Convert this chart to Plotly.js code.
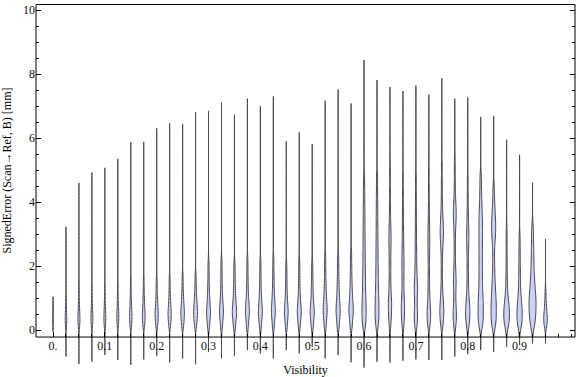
<!DOCTYPE html>
<html><head><meta charset="utf-8">
<script src="https://cdn.plot.ly/plotly-3.0.1.min.js"></script>
<style>html,body{margin:0;padding:0;background:#fff}#chart{width:576px;height:377px}</style>
</head><body><div id="chart"></div>
<script>
// ---------------- DATA ----------------
const visibility = [0, 0.025, 0.05, 0.075, 0.1, 0.125, 0.15, 0.175, 0.2, 0.225,
  0.25, 0.275, 0.3, 0.325, 0.35, 0.375, 0.4, 0.425, 0.45, 0.475,
  0.5, 0.525, 0.55, 0.575, 0.6, 0.625, 0.65, 0.675, 0.7, 0.725,
  0.75, 0.775, 0.8, 0.825, 0.85, 0.875, 0.9, 0.925, 0.95];

const errMin = [-0.05, -0.83, -1.06, -0.99, -0.78, -0.94, -1.09, -0.92, -0.81, -1.02,
  -0.89, -1.07, -0.68, -0.89, -0.81, -0.63, -0.73, -0.89, -0.63, -0.73,
  -0.52, -0.89, -0.78, -1.01, -1.17, -0.99, -1.02, -0.96, -0.92, -0.94,
  -0.94, -0.83, -0.75, -0.63, -0.68, -0.52, -0.47, -0.42, -0.42];

const errMax = [1.04, 3.23, 4.60, 4.92, 5.07, 5.35, 5.87, 5.88, 6.30, 6.46,
  6.44, 6.81, 6.85, 7.11, 6.73, 7.23, 7.00, 7.30, 5.90, 6.18,
  5.81, 7.17, 7.52, 7.08, 8.44, 7.81, 7.59, 7.47, 7.64, 7.36,
  7.87, 7.23, 7.27, 6.66, 6.69, 5.95, 5.48, 4.60, 2.84];

const errSamples = [
  [0.2, 0.5, 0.8],
  [0.1, 0.18, 0.25, 0.31, 0.37, 0.43, 0.5, 0.58, 0.68, 0.8, 0.95, 1.15],
  [0.08, 0.16, 0.23, 0.29, 0.35, 0.41, 0.47, 0.54, 0.62, 0.72, 0.84, 1.0, 1.2, 1.45],
  [0.1, 0.18, 0.25, 0.31, 0.37, 0.43, 0.49, 0.56, 0.64, 0.74, 0.86, 1.02, 1.22, 1.46],
  [0.08, 0.16, 0.24, 0.3, 0.36, 0.42, 0.48, 0.55, 0.63, 0.73, 0.85, 1.0, 1.2, 1.45],
  [0.1, 0.19, 0.27, 0.33, 0.39, 0.45, 0.51, 0.58, 0.66, 0.76, 0.88, 1.04, 1.24, 1.5],
  [0.08, 0.17, 0.25, 0.32, 0.38, 0.44, 0.5, 0.57, 0.65, 0.74, 0.85, 0.98, 1.14, 1.34, 1.58],
  [0.1, 0.19, 0.27, 0.34, 0.4, 0.46, 0.52, 0.59, 0.67, 0.76, 0.87, 1.0, 1.16, 1.36, 1.6],
  [0.08, 0.18, 0.27, 0.35, 0.42, 0.48, 0.54, 0.61, 0.69, 0.78, 0.89, 1.02, 1.18, 1.38, 1.62],
  [0.1, 0.2, 0.29, 0.37, 0.44, 0.5, 0.56, 0.63, 0.71, 0.8, 0.91, 1.04, 1.2, 1.4, 1.65],
  [0.08, 0.19, 0.29, 0.38, 0.45, 0.52, 0.58, 0.65, 0.73, 0.82, 0.93, 1.06, 1.22, 1.42, 1.68],
  [0.1, 0.21, 0.31, 0.4, 0.47, 0.54, 0.6, 0.67, 0.75, 0.84, 0.95, 1.08, 1.24, 1.44, 1.7],
  [0.05, 0.14, 0.28, 0.37, 0.44, 0.5, 0.56, 0.62, 0.69, 0.77, 0.86, 0.97, 1.1, 1.25, 1.42, 1.62, 1.85, 2.1],
  [0.06, 0.15, 0.3, 0.39, 0.46, 0.52, 0.58, 0.64, 0.71, 0.79, 0.88, 0.99, 1.12, 1.27, 1.45, 1.66, 1.9, 2.16],
  [0.05, 0.14, 0.29, 0.38, 0.45, 0.51, 0.57, 0.63, 0.7, 0.78, 0.87, 0.98, 1.11, 1.26, 1.43, 1.63, 1.86, 2.1],
  [0.06, 0.15, 0.31, 0.4, 0.47, 0.53, 0.59, 0.66, 0.73, 0.81, 0.9, 1.01, 1.14, 1.3, 1.48, 1.69, 1.93, 2.2],
  [0.05, 0.15, 0.3, 0.39, 0.46, 0.52, 0.58, 0.65, 0.72, 0.8, 0.89, 1.0, 1.13, 1.28, 1.46, 1.67, 1.9, 2.15],
  [0.06, 0.16, 0.32, 0.41, 0.48, 0.55, 0.61, 0.68, 0.75, 0.83, 0.93, 1.04, 1.17, 1.33, 1.51, 1.72, 1.96, 2.24],
  [0.05, 0.14, 0.29, 0.38, 0.45, 0.51, 0.57, 0.63, 0.7, 0.78, 0.87, 0.98, 1.11, 1.26, 1.43, 1.62, 1.84, 2.08],
  [0.06, 0.15, 0.3, 0.39, 0.46, 0.52, 0.58, 0.64, 0.71, 0.79, 0.88, 0.99, 1.12, 1.27, 1.45, 1.66, 1.9, 2.16],
  [0.05, 0.14, 0.28, 0.37, 0.44, 0.5, 0.56, 0.62, 0.69, 0.77, 0.86, 0.97, 1.1, 1.25, 1.42, 1.62, 1.85, 2.1],
  [0.06, 0.16, 0.32, 0.42, 0.5, 0.57, 0.64, 0.71, 0.79, 0.88, 0.98, 1.1, 1.24, 1.4, 1.58, 1.8, 2.05, 2.34],
  [0.06, 0.16, 0.31, 0.41, 0.49, 0.56, 0.63, 0.7, 0.78, 0.87, 0.97, 1.09, 1.23, 1.39, 1.57, 1.78, 2.02, 2.3],
  [0.07, 0.17, 0.33, 0.43, 0.51, 0.58, 0.65, 0.73, 0.81, 0.9, 1.01, 1.13, 1.27, 1.43, 1.62, 1.84, 2.1, 2.4],
  [0.1, 0.22, 0.34, 0.45, 0.56, 0.67, 0.78, 0.9, 1.03, 1.17, 1.32, 1.48, 1.65, 1.83, 2.02, 2.22, 2.43, 2.65, 2.88, 3.12, 3.38, 3.66, 3.96, 4.3, 4.7],
  [0.12, 0.24, 0.36, 0.47, 0.58, 0.69, 0.8, 0.92, 1.05, 1.19, 1.34, 1.5, 1.67, 1.85, 2.04, 2.24, 2.45, 2.67, 2.9, 3.15, 3.42, 3.7, 4.0, 4.35, 4.75],
  [0.12, 0.25, 0.38, 0.5, 0.6, 0.7, 0.78, 0.86, 0.95, 1.06, 1.2, 1.36, 1.54, 1.74, 1.94, 2.14, 2.34, 2.52, 2.68, 2.82, 2.95, 3.1, 3.28, 3.5, 3.78, 4.1, 4.5, 5.0],
  [0.1, 0.22, 0.34, 0.45, 0.55, 0.64, 0.72, 0.8, 0.9, 1.02, 1.16, 1.32, 1.5, 1.68, 1.84, 1.98, 2.12, 2.26, 2.42, 2.6, 2.8, 3.02, 3.28, 3.58, 3.92, 4.3, 4.75],
  [0.1, 0.2, 0.3, 0.38, 0.46, 0.56, 0.68, 0.82, 0.96, 1.08, 1.18, 1.27, 1.36, 1.45, 1.56, 1.7, 1.86, 2.04, 2.24, 2.46, 2.7, 2.96, 3.24, 3.55, 3.9, 4.3, 4.75],
  [0.1, 0.2, 0.29, 0.37, 0.44, 0.51, 0.58, 0.66, 0.75, 0.86, 1.0, 1.16, 1.34, 1.54, 1.76, 1.98, 2.2, 2.4, 2.58, 2.74, 2.9, 3.06, 3.24, 3.46, 3.72, 4.05, 4.45, 4.9],
  [0.12, 0.24, 0.35, 0.45, 0.54, 0.62, 0.7, 0.79, 0.9, 1.04, 1.22, 1.45, 1.75, 2.1, 2.4, 2.62, 2.78, 2.9, 3.0, 3.1, 3.2, 3.32, 3.46, 3.64, 3.88, 4.2, 4.6, 5.1],
  [0.12, 0.24, 0.35, 0.45, 0.55, 0.66, 0.8, 0.98, 1.18, 1.35, 1.48, 1.6, 1.74, 1.92, 2.16, 2.46, 2.78, 3.06, 3.28, 3.44, 3.56, 3.68, 3.8, 3.95, 4.15, 4.45, 4.85, 5.3],
  [0.1, 0.2, 0.29, 0.37, 0.44, 0.51, 0.58, 0.65, 0.72, 0.8, 0.9, 1.02, 1.17, 1.35, 1.56, 1.8, 2.06, 2.32, 2.54, 2.72, 2.86, 3.0, 3.15, 3.33, 3.56, 3.85, 4.2, 4.65],
  [0.1, 0.2, 0.3, 0.4, 0.5, 0.6, 0.7, 0.8, 0.9, 1.0, 1.12, 1.25, 1.4, 1.55, 1.7, 1.86, 2.02, 2.18, 2.34, 2.5, 2.65, 2.8, 2.95, 3.1, 3.25, 3.4, 3.55, 3.72, 3.92, 4.15, 4.45, 4.8],
  [0.1, 0.2, 0.3, 0.4, 0.5, 0.6, 0.7, 0.8, 0.9, 1.0, 1.12, 1.25, 1.4, 1.58, 1.8, 2.05, 2.35, 2.65, 2.85, 3.0, 3.12, 3.24, 3.36, 3.5, 3.66, 3.85, 4.1, 4.45],
  [0.08, 0.15, 0.22, 0.28, 0.34, 0.4, 0.46, 0.52, 0.58, 0.64, 0.7, 0.77, 0.85, 0.94, 1.05, 1.2, 1.4, 1.65, 1.95, 2.3, 2.7, 3.1],
  [0.08, 0.16, 0.23, 0.3, 0.37, 0.44, 0.51, 0.58, 0.65, 0.72, 0.8, 0.89, 1.0, 1.13, 1.3, 1.5, 1.72, 1.97, 2.25, 2.55, 2.9],
  [0.1, 0.2, 0.3, 0.4, 0.5, 0.58, 0.66, 0.74, 0.82, 0.9, 0.98, 1.06, 1.15, 1.25, 1.36, 1.48, 1.62, 1.78, 1.96, 2.16, 2.38, 2.62, 2.9, 3.2],
  [0.08, 0.15, 0.22, 0.28, 0.34, 0.4, 0.46, 0.52, 0.6, 0.7, 0.82, 0.98, 1.2]
];

const xTickVals = [0, 0.1, 0.2, 0.3, 0.4, 0.5, 0.6, 0.7, 0.8, 0.9];
const xTickText = ['0.', '0.1', '0.2', '0.3', '0.4', '0.5', '0.6', '0.7', '0.8', '0.9'];
const yTickVals = [0, 2, 4, 6, 8, 10];
const yTickText = ['0', '2', '4', '6', '8', '10'];

// ---------------- STYLE ----------------
const PX_PER_X = 518.4;   // plot pixels per x unit (for violin body widths)
const bodyWidthPx = [1, 2.3, 3.0, 2.8, 2.8, 3.0, 3.6, 4.2, 4.8, 4.8,
  5.4, 6.0, 6.0, 6.0, 6.6, 6.0, 6.0, 6.0, 5.7, 6.0,
  6.3, 6.0, 6.3, 6.6, 6.3, 5.9, 5.0, 5.0, 5.0, 5.4,
  6.0, 5.0, 6.6, 8.0, 8.0, 8.6, 8.0, 10.6, 5.4];
const WIDTH_GAIN = 0.66;
const FILL = 'rgb(204,210,246)';
const EDGE = 'rgb(70,70,80)';
const FONT = 'Liberation Serif, Times New Roman, serif';

function bw(k) {
  if (k < 12 || k === 38) return 0.13;
  if (k < 24) return 0.15;
  return 0.2;
}

const traces = visibility.map((v, k) => ({
  type: 'violin',
  x0: v,
  y: errSamples[k],
  orientation: 'v',
  spanmode: 'manual',
  span: [errMin[k], errMax[k]],
  bandwidth: bw(k),
  width: bodyWidthPx[k] * WIDTH_GAIN / PX_PER_X,
  scalemode: 'width',
  scalegroup: 'g' + k,
  points: false,
  box: {visible: false},
  meanline: {visible: false},
  fillcolor: FILL,
  line: {color: EDGE, width: 1},
  hoverinfo: 'skip',
  showlegend: false
}));

const minorX = [];
for (let i = 0; i <= 40; i++) minorX.push(+(i * 0.025).toFixed(3));
const minorY = [];
for (let i = 1; i <= 20; i++) minorY.push(i * 0.5);

const tickStyle = {ticks: 'inside', ticklen: 5, tickwidth: 1, tickcolor: '#000'};

const layout = {
  width: 576, height: 377,
  margin: {l: 36, r: 1, t: 4, b: 7, pad: 0},
  paper_bgcolor: '#fff', plot_bgcolor: 'rgba(0,0,0,0)',
  violinmode: 'overlay',
  showlegend: false,
  font: {family: FONT, size: 12, color: '#111'},
  xaxis: Object.assign({
    type: 'linear', range: [-0.0328, 1.0069],
    anchor: 'free', position: 0.09,
    showline: false, showgrid: false, zeroline: false,
    tickmode: 'array', tickvals: xTickVals, ticktext: xTickText,
    mirror: false,
    minor: {tickmode: 'array', tickvals: minorX, ticks: 'inside', ticklen: 3, tickcolor: '#000', showgrid: false},
    tickfont: {family: FONT, size: 12, color: '#111'},
    title: {text: 'Visibility', font: {family: FONT, size: 12, color: '#000'}, standoff: 13}
  }, tickStyle),
  xaxis2: Object.assign({
    type: 'linear', range: [-0.0328, 1.0069],
    overlaying: 'x', anchor: 'y', side: 'top',
    showline: false, showgrid: false, zeroline: false, showticklabels: false,
    tickmode: 'array', tickvals: xTickVals,
    minor: {tickmode: 'array', tickvals: minorX, ticks: 'inside', ticklen: 3, tickcolor: '#000', showgrid: false}
  }, tickStyle),
  yaxis: Object.assign({
    type: 'linear', range: [-1.25, 10.19],
    showline: false, showgrid: false, zeroline: false,
    tickmode: 'array', tickvals: yTickVals, ticktext: yTickText,
    mirror: 'ticks',
    minor: {tickmode: 'array', tickvals: minorY, ticks: 'inside', ticklen: 3, tickcolor: '#000', showgrid: false},
    tickfont: {family: FONT, size: 12, color: '#111'}
  }, tickStyle),
  shapes: [{
    type: 'rect', xref: 'paper', yref: 'y', x0: 0, x1: 1, y0: -0.22, y1: 10.175,
    line: {color: '#000', width: 1}, fillcolor: 'rgba(0,0,0,0)', layer: 'above'
  }],
  annotations: [{
    text: 'SignedError (Scan\u2192Ref, B) [mm]', xref: 'paper', yref: 'y',
    x: -0.053, y: 5, xanchor: 'center', yanchor: 'middle', textangle: -90,
    showarrow: false, font: {family: FONT, size: 12, color: '#000'}
  }]
};

Plotly.newPlot('chart', traces, layout, {displayModeBar: false, staticPlot: true});
</script>
</body></html>
